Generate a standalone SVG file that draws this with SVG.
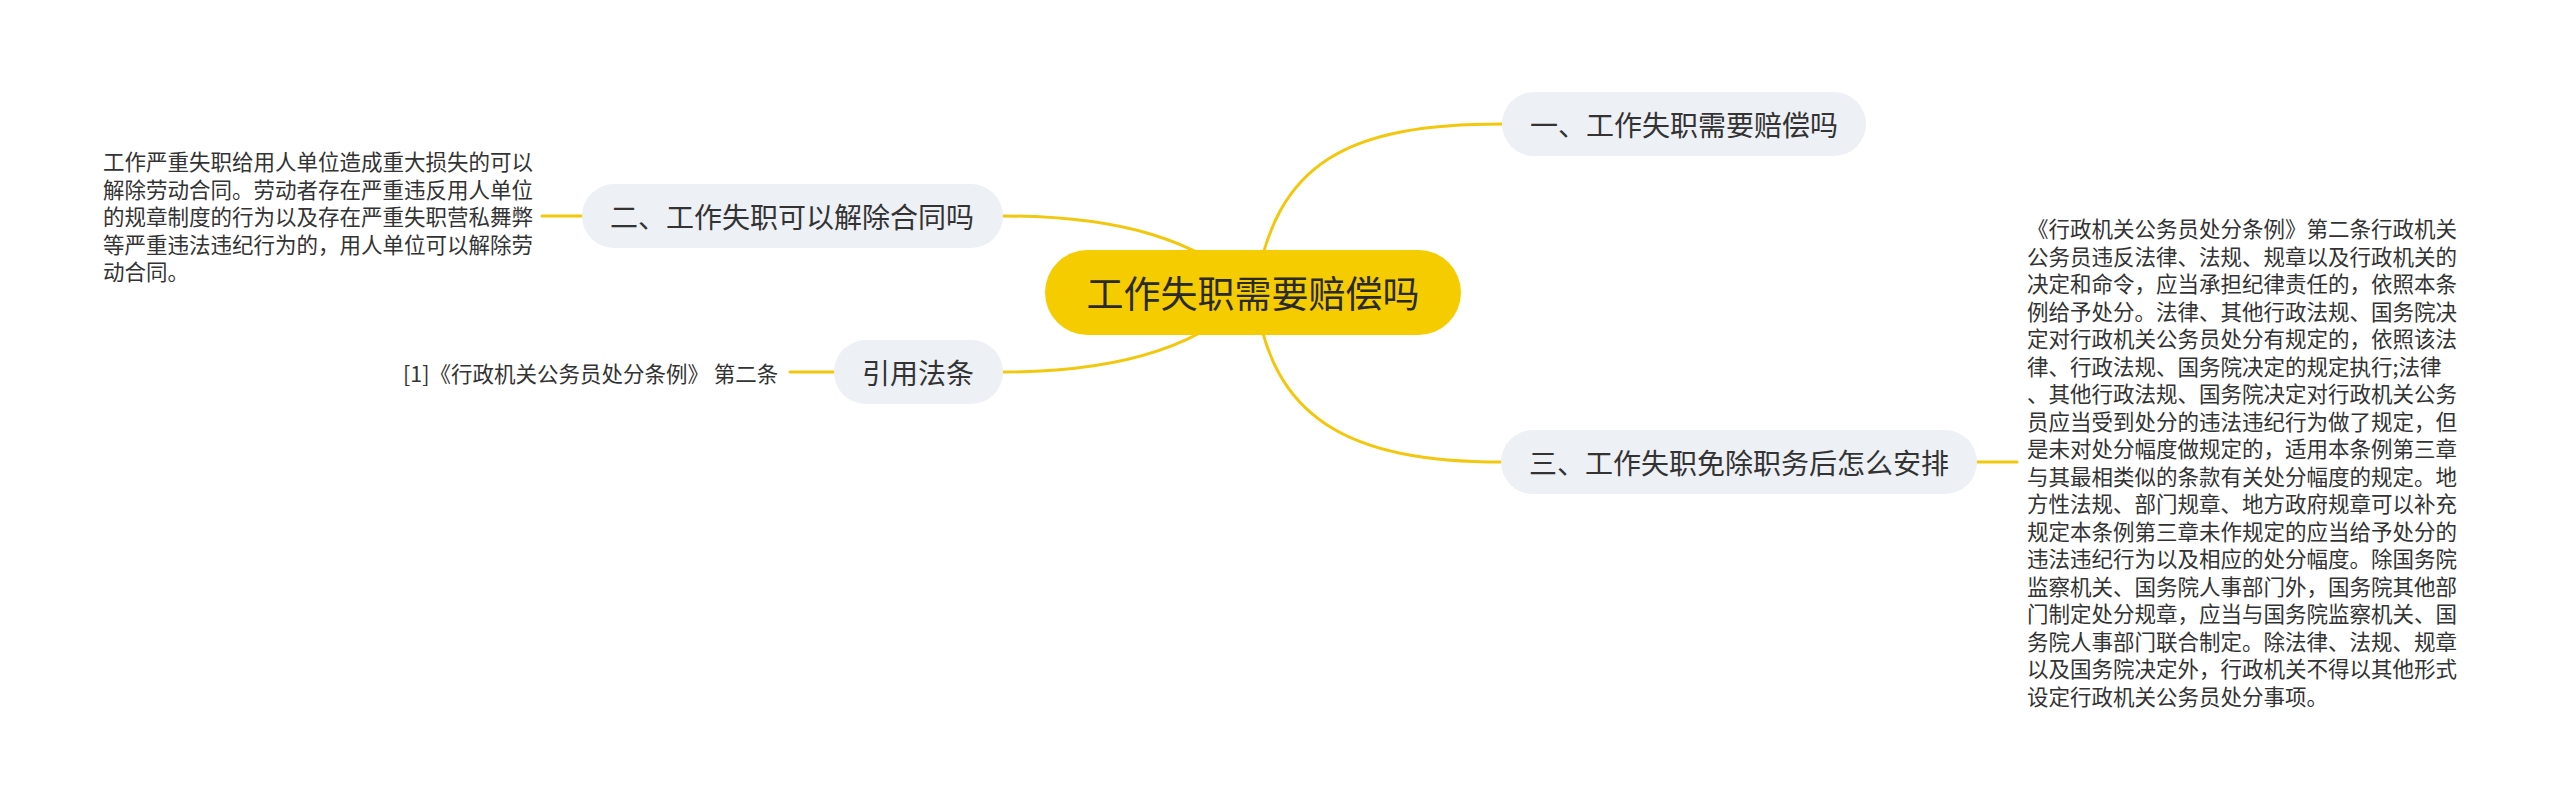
<svg xmlns="http://www.w3.org/2000/svg" width="2560" height="811" viewBox="0 0 2560 811">
<style>
.lnk{fill:none;stroke:#f2c80f;stroke-width:3;stroke-linecap:round}
.pill{fill:#edf0f4}
.root{fill:#f5cc00}
.t{font-family:"Noto Sans CJK SC","Noto Sans",sans-serif;fill:#333;dominant-baseline:central}
.tn{font-size:28px;text-anchor:middle}
.tr{font-size:37px;text-anchor:middle;fill:#2a2a2a}
.tl{font-size:21.5px}
</style>
<rect width="2560" height="811" fill="#fff"/>
<g id="connectors">
<path class="lnk" d="M1255 292 C1275 160 1350 124 1502 124"/>
<path class="lnk" d="M1253 292 C1200 240 1120 216 1003 216"/>
<path class="lnk" d="M1253 292 C1205 345 1120 372 1003 372"/>
<path class="lnk" d="M1255 292 C1270 420 1350 462 1502 462"/>
<path class="lnk" d="M542 216 L583 216"/>
<path class="lnk" d="M790 372 L834 372"/>
<path class="lnk" d="M1976 462 L2017 462"/>
</g>
<g id="root">
<rect class="root" x="1045" y="250" width="416" height="85" rx="42.5"/>
<text class="t tr" x="1253" y="292">工作失职需要赔偿吗</text>
</g>
<g id="n1">
<rect class="pill" x="1502" y="92" width="364" height="64" rx="32"/>
<text class="t tn" x="1684" y="124">一、工作失职需要赔偿吗</text>
</g>
<g id="n2">
<rect class="pill" x="582" y="184" width="421" height="64" rx="32"/>
<text class="t tn" x="792" y="216">二、工作失职可以解除合同吗</text>
</g>
<g id="n3">
<rect class="pill" x="1501" y="430" width="476" height="64" rx="32"/>
<text class="t tn" x="1739" y="462">三、工作失职免除职务后怎么安排</text>
</g>
<g id="n4">
<rect class="pill" x="834" y="340" width="169" height="64" rx="32"/>
<text class="t tn" x="918" y="372">引用法条</text>
</g>
<g id="leaf2">
<text class="t tl" x="103">
<tspan x="103" y="160">工作严重失职给用人单位造成重大损失的可以</tspan>
<tspan x="103" y="187.5">解除劳动合同。劳动者存在严重违反用人单位</tspan>
<tspan x="103" y="215">的规章制度的行为以及存在严重失职营私舞弊</tspan>
<tspan x="103" y="242.5">等严重违法违纪行为的，用人单位可以解除劳</tspan>
<tspan x="103" y="270">动合同。</tspan>
</text>
</g>
<g id="leaf4">
<text class="t tl" x="403" y="372">[1]《行政机关公务员处分条例》 第二条</text>
</g>
<g id="leaf3">
<text class="t tl" x="2027">
<tspan x="2027" y="227">《行政机关公务员处分条例》第二条行政机关</tspan>
<tspan x="2027" y="254.5">公务员违反法律、法规、规章以及行政机关的</tspan>
<tspan x="2027" y="282">决定和命令，应当承担纪律责任的，依照本条</tspan>
<tspan x="2027" y="309.5">例给予处分。法律、其他行政法规、国务院决</tspan>
<tspan x="2027" y="337">定对行政机关公务员处分有规定的，依照该法</tspan>
<tspan x="2027" y="364.5">律、行政法规、国务院决定的规定执行;法律</tspan>
<tspan x="2027" y="392">、其他行政法规、国务院决定对行政机关公务</tspan>
<tspan x="2027" y="419.5">员应当受到处分的违法违纪行为做了规定，但</tspan>
<tspan x="2027" y="447">是未对处分幅度做规定的，适用本条例第三章</tspan>
<tspan x="2027" y="474.5">与其最相类似的条款有关处分幅度的规定。地</tspan>
<tspan x="2027" y="502">方性法规、部门规章、地方政府规章可以补充</tspan>
<tspan x="2027" y="529.5">规定本条例第三章未作规定的应当给予处分的</tspan>
<tspan x="2027" y="557">违法违纪行为以及相应的处分幅度。除国务院</tspan>
<tspan x="2027" y="584.5">监察机关、国务院人事部门外，国务院其他部</tspan>
<tspan x="2027" y="612">门制定处分规章，应当与国务院监察机关、国</tspan>
<tspan x="2027" y="639.5">务院人事部门联合制定。除法律、法规、规章</tspan>
<tspan x="2027" y="667">以及国务院决定外，行政机关不得以其他形式</tspan>
<tspan x="2027" y="694.5">设定行政机关公务员处分事项。</tspan>
</text>
</g>
</svg>
